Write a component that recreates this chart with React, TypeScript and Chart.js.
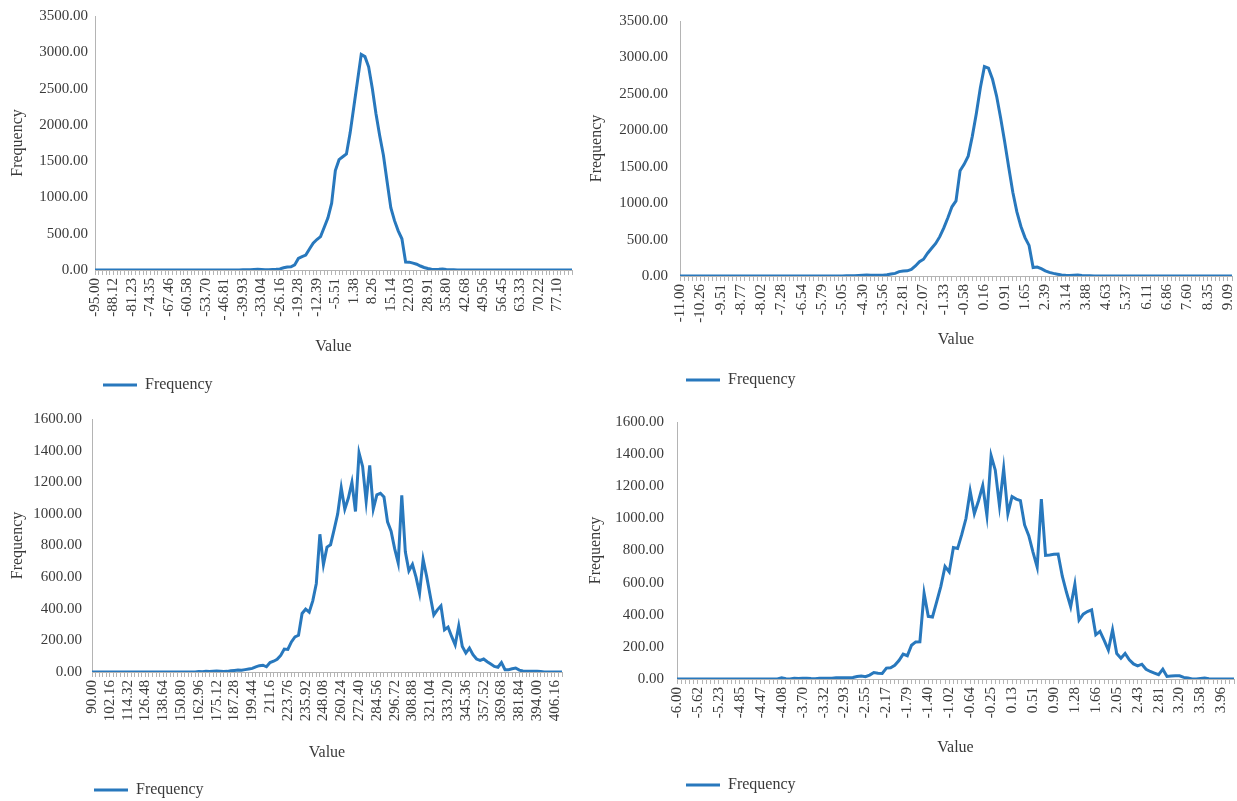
import React, { useEffect, useRef } from 'react';
import { Chart, registerables } from 'chart.js';

Chart.register(...registerables);

const FONT = "'Liberation Serif', 'Times New Roman', serif";
const LINE_COLOR = '#2878bd';
const AXIS_COLOR = '#b4b4b4';
const TEXT_COLOR = '#3a3a3a';

// ---------- Chart 1 (top-left) ----------
const ticks1 = ['-95.00', '-88.12', '-81.23', '-74.35', '-67.46', '-60.58', '-53.70', '- 46.81', '-39.93', '-33.04', '-26.16', '-19.28', '-12.39', '-5.51', '1.38', '8.26', '15.14', '22.03', '28.91', '35.80', '42.68', '49.56', '56.45', '63.33', '70.22', '77.10'];
const freq1 = [
  0, 0, 0, 0, 0, 0, 0, 0, 0, 0,
  0, 0, 0, 0, 0, 0, 0, 0, 0, 0,
  0, 0, 0, 0, 0, 0, 0, 0, 0, 0,
  0, 0, 0, 0, 0, 0, 0, 0, 0, 0,
  2, 3, 5, 8, 10, 6, 3, 5, 7, 10,
  15, 30, 40, 45, 70, 160, 185, 205, 290, 370,
  420, 460, 590, 720, 920, 1370, 1520, 1560, 1600, 1890,
  2250, 2610, 2970, 2940, 2800, 2500, 2150, 1850, 1580, 1215,
  860, 680, 540, 430, 110, 108, 95, 80, 55, 35,
  20, 10, 8, 10, 14, 8, 4, 2, 1, 0,
  0, 0, 0, 0, 0, 0, 0, 0, 0, 0,
  0, 0, 0, 0, 0, 0, 0, 0, 0, 0,
  0, 0, 0, 0, 0, 0, 0, 0, 0, 0,
];

// ---------- Chart 2 (top-right) ----------
const ticks2 = ['-11.00', '-10.26', '-9.51', '-8.77', '-8.02', '-7.28', '-6.54', '-5.79', '-5.05', '-4.30', '-3.56', '-2.81', '-2.07', '-1.33', '-0.58', '0.16', '0.91', '1.65', '2.39', '3.14', '3.88', '4.63', '5.37', '6.11', '6.86', '7.60', '8.35', '9.09'];
const freq2 = [
  0, 0, 0, 0, 0, 0, 0, 0, 0, 0,
  0, 0, 0, 0, 0, 0, 0, 0, 0, 0,
  0, 0, 0, 0, 0, 0, 0, 0, 0, 0,
  0, 0, 0, 0, 0, 0, 0, 0, 0, 0,
  0, 2, 3, 5, 8, 10, 13, 11, 9, 9,
  12, 17, 26, 36, 60, 69, 71, 90, 137, 195,
  230, 312, 380, 447, 540, 660, 800, 950, 1030, 1444,
  1533, 1645, 1913, 2226, 2584, 2874, 2852, 2700, 2470, 2170,
  1840, 1490, 1150, 880, 680, 527, 420, 116, 122, 100,
  71, 50, 36, 25, 15, 10, 8, 12, 15, 8,
  4, 2, 0, 0, 0, 0, 0, 0, 0, 0,
  0, 0, 0, 0, 0, 0, 0, 0, 0, 0,
  0, 0, 0, 0, 0, 0, 0, 0, 0, 0,
  0, 0, 0, 0, 0, 0, 0,
];

// ---------- Chart 3 (bottom-left) ----------
const ticks3 = ['90.00', '102.16', '114.32', '126.48', '138.64', '150.80', '162.96', '175.12', '187.28', '199.44', '211.6', '223.76', '235.92', '248.08', '260.24', '272.40', '284.56', '296.72', '308.88', '321.04', '333.20', '345.36', '357.52', '369.68', '381.84', '394.00', '406.16'];
const freq3 = [
  0, 0, 0, 0, 0, 0, 0, 0, 0, 0,
  0, 0, 0, 0, 0, 0, 0, 0, 0, 0,
  0, 0, 0, 0, 0, 0, 0, 0, 0, 0,
  3, 2, 5, 3, 5, 6, 5, 3, 4, 8,
  10, 12, 11, 15, 19, 23, 33, 40, 43, 33,
  60, 68, 80, 105, 145, 143, 190, 222, 232, 370,
  397, 378, 450, 560, 871, 680, 790, 805, 900, 1000,
  1165, 1030, 1100, 1200, 1015, 1385, 1300, 1080, 1306, 1030,
  1120, 1130, 1107, 950, 890, 780, 690, 1117, 760, 640,
  680, 600, 498, 712, 603, 480, 361, 393, 418, 267,
  284, 225, 172, 292, 162, 120, 151, 110, 82, 73,
  82, 65, 50, 35, 30, 60, 15, 15, 20, 25,
  12, 6, 5, 5, 5, 5, 3, 0, 0, 0,
  0, 0, 0,
];

// ---------- Chart 4 (bottom-right) ----------
const ticks4 = ['-6.00', '-5.62', '-5.23', '-4.85', '-4.47', '-4.08', '-3.70', '-3.32', '-2.93', '-2.55', '-2.17', '-1.79', '-1.40', '-1.02', '-0.64', '-0.25', '0.13', '0.51', '0.90', '1.28', '1.66', '2.05', '2.43', '2.81', '3.20', '3.58', '3.96'];
const freq4 = [
  0, 0, 0, 0, 0, 0, 0, 0, 0, 0,
  0, 0, 0, 0, 0, 0, 0, 0, 0, 0,
  0, 0, 0, 0, 0, 8, 2, 0, 5, 3,
  5, 5, 3, 2, 4, 5, 4, 5, 8, 8,
  8, 8, 9, 15, 18, 14, 24, 40, 36, 35,
  68, 70, 85, 115, 155, 145, 210, 231, 232, 533,
  390, 386, 480, 577, 701, 667, 818, 812, 900, 999,
  1170, 1029, 1110, 1204, 1019, 1391, 1300, 1079, 1310, 1029,
  1136, 1120, 1110, 959, 892, 790, 697, 1120, 770, 772,
  776, 778, 640, 540, 450, 590, 367, 404, 420, 430,
  275, 296, 240, 180, 306, 159, 129, 159, 120, 94,
  82, 92, 61, 47, 37, 27, 61, 16, 18, 20,
  20, 10, 6, 0, 0, 3, 6, 2, 0, 0,
  0, 0, 0, 0,
];

const LABEL_EVERY = 5;

function buildCategories(tickLabels: string[], count: number): string[] {
  const out: string[] = [];
  for (let i = 0; i < count; i++) {
    const k = i / LABEL_EVERY;
    out.push(i % LABEL_EVERY === 0 && k < tickLabels.length ? tickLabels[k] : '');
  }
  return out;
}

type Spec = {
  x: number; y: number; w: number; h: number;
  ticks: string[]; data: number[];
  yMax: number; yStep: number;
  pad: { left: number; top: number; right: number; bottom: number };
  yW: number; yPad: number; hX: number; titlePb: number; legendPad: number;
};

const specs: Spec[] = [
  { x: 0, y: 0, w: 600, h: 400, ticks: ticks1, data: freq1, yMax: 3500, yStep: 500,
    pad: { left: 4, top: 11, right: 28, bottom: 5 }, yW: 91, yPad: 7, hX: 99, titlePb: 12.4, legendPad: 8 },
  { x: 580, y: 0, w: 657, h: 400, ticks: ticks2, data: freq2, yMax: 3500, yStep: 500,
    pad: { left: 3, top: 15, right: 5, bottom: 10 }, yW: 97, yPad: 12, hX: 90, titlePb: 16.4, legendPad: 6 },
  { x: 0, y: 400, w: 590, h: 401, ticks: ticks3, data: freq3, yMax: 1600, yStep: 200,
    pad: { left: 4, top: 18, right: 28, bottom: 1 }, yW: 88, yPad: 10, hX: 108, titlePb: 17.4, legendPad: 2 },
  { x: 580, y: 400, w: 657, h: 401, ticks: ticks4, data: freq4, yMax: 1600, yStep: 200,
    pad: { left: 2, top: 14, right: 3, bottom: 6 }, yW: 95, yPad: 13, hX: 89, titlePb: 10.4, legendPad: 9 },
];

function Panel({ spec }: { spec: Spec }) {
  const ref = useRef<HTMLCanvasElement | null>(null);
  useEffect(() => {
    if (!ref.current) return;
    const chart = new Chart(ref.current, {
      type: 'line',
      data: {
        labels: buildCategories(spec.ticks, spec.data.length),
        datasets: [
          {
            label: 'Frequency',
            data: spec.data,
            borderColor: LINE_COLOR,
            backgroundColor: LINE_COLOR,
            borderWidth: 3,
            pointRadius: 0,
            pointHoverRadius: 0,
            tension: 0,
            fill: false,
          },
        ],
      },
      options: {
        animation: false,
        responsive: false,
        devicePixelRatio: 1,
        layout: { padding: spec.pad },
        plugins: {
          legend: {
            display: true,
            position: 'bottom',
            align: 'start',
            fullSize: false,
            maxHeight: spec.legendPad + 18,
            labels: {
              usePointStyle: true,
              pointStyle: 'line',
              pointStyleWidth: 34,
              padding: spec.legendPad,
              color: TEXT_COLOR,
              font: { family: FONT, size: 16 },
            },
          },
          tooltip: { enabled: false },
        },
        scales: {
          x: {
            type: 'category',
            offset: false,
            grid: { display: true, drawOnChartArea: false, drawTicks: true, tickLength: 5, color: AXIS_COLOR, lineWidth: 1 },
            border: { display: true, color: AXIS_COLOR, width: 1 },
            ticks: {
              autoSkip: false,
              minRotation: 90,
              maxRotation: 90,
              padding: 3,
              color: TEXT_COLOR,
              font: { family: FONT, size: 15 },
            },
            title: {
              display: true,
              text: 'Value',
              color: TEXT_COLOR,
              font: { family: FONT, size: 16 },
              padding: { top: 0, bottom: spec.titlePb },
            },
            afterFit: (s: any) => {
              s.height = spec.hX;
              s.paddingLeft = 0;
              s.paddingRight = 0;
            },
          },
          y: {
            min: 0,
            max: spec.yMax,
            grid: { display: false, drawTicks: false },
            border: { display: true, color: AXIS_COLOR, width: 1 },
            ticks: {
              stepSize: spec.yStep,
              padding: spec.yPad,
              color: TEXT_COLOR,
              font: { family: FONT, size: 15 },
              callback: (v: any) => Number(v).toFixed(2),
            },
            title: {
              display: true,
              text: 'Frequency',
              color: TEXT_COLOR,
              font: { family: FONT, size: 16 },
              padding: { top: 4, bottom: 0 },
            },
            afterFit: (s: any) => {
              s.width = spec.yW;
            },
          },
        },
      } as any,
    });
    return () => chart.destroy();
  }, [spec]);
  return (
    <canvas
      ref={ref}
      width={spec.w}
      height={spec.h}
      style={{ position: 'absolute', left: spec.x, top: spec.y, width: spec.w, height: spec.h }}
    />
  );
}

export default function App() {
  return (
    <div>
      {specs.map((s, i) => (
        <Panel key={i} spec={s} />
      ))}
    </div>
  );
}
